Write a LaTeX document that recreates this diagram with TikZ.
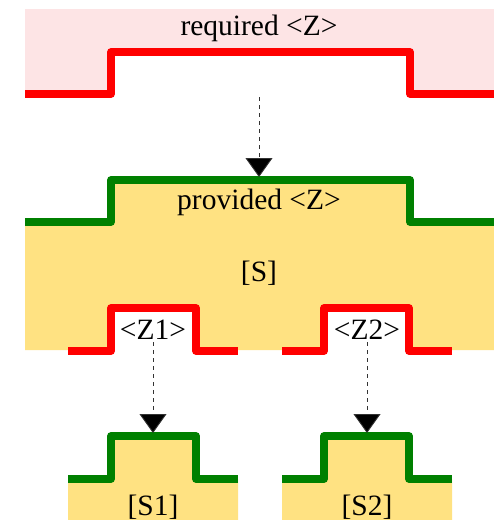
\documentclass[tikz,border=0pt]{standalone}
\usepackage{fontspec}
\setmainfont{Liberation Serif}
\usetikzlibrary{arrows.meta}
\definecolor{reqfill}{HTML}{FDE4E5}
\definecolor{provfill}{HTML}{FFE282}
\definecolor{reqline}{HTML}{FF0000}
\definecolor{provline}{HTML}{008000}
\tikzset{
  required/.style={draw=reqline, line width=7.5pt, line join=round, line cap=butt},
  provided/.style={draw=provline, line width=7.5pt, line join=round, line cap=butt},
  label/.style={font=\fontsize{29.5}{33}\selectfont, inner sep=0pt, anchor=center},
  binding/.style={dashed, dash pattern=on 4pt off 4pt, line width=0.9pt, draw=black!80,
    -{Triangle[width=27pt,length=19pt,fill=black]}},
}
\begin{document}
\begin{tikzpicture}[x=1pt,y=-1pt]
\useasboundingbox (0,0) rectangle (494,520);

% required interface <Z> on top
\fill[reqfill] (25,9) -- (494,9) -- (494,94) -- (410,94) -- (410,52) -- (111,52) -- (111,94) -- (25,94) -- cycle;
\draw[required] (25,94) -- (111,94) -- (111,52) -- (410,52) -- (410,94) -- (494,94);
\node[label] (req) at (259,28) {required <Z>};

% component S providing <Z>
\fill[provfill] (25,222) -- (111,222) -- (111,180) -- (410,180) -- (410,222) -- (494,222) -- (494,350) -- (25,350) -- cycle;
\fill[white] (111,308) rectangle (196,352);
\fill[white] (324,308) rectangle (409,352);
\draw[provided] (25,222) -- (111,222) -- (111,180) -- (410,180) -- (410,222) -- (494,222);
\draw[required] (68,351) -- (111,351) -- (111,308) -- (196,308) -- (196,351) -- (238,351);
\draw[required] (282,351) -- (324,351) -- (324,308) -- (409,308) -- (409,351) -- (452,351);
\node[label] (prov) at (259,202) {provided <Z>};
\node[label] (s) at (259,273) {[S]};
\node[label] (z1) at (153,330) {<Z1>};
\node[label] (z2) at (367,330) {<Z2>};

% subcomponents S1 and S2
\fill[provfill] (68,479) -- (111,479) -- (111,436) -- (196,436) -- (196,479) -- (238,479) -- (238,520) -- (68,520) -- cycle;
\fill[provfill] (282,479) -- (324,479) -- (324,436) -- (409,436) -- (409,479) -- (452,479) -- (452,520) -- (282,520) -- cycle;
\draw[provided] (68,479) -- (111,479) -- (111,436) -- (196,436) -- (196,479) -- (238,479);
\draw[provided] (282,479) -- (324,479) -- (324,436) -- (409,436) -- (409,479) -- (452,479);
\node[label] (s1) at (153,507) {[S1]};
\node[label] (s2) at (367,507) {[S2]};

% bindings
\coordinate (reqout) at (259,97);
\coordinate (provin) at (259,177);
\coordinate (z1out) at (153,342);
\coordinate (s1in) at (153,433);
\coordinate (z2out) at (367,342);
\coordinate (s2in) at (367,433);
\draw[binding] (reqout) -- (provin);
\draw[binding] (z1out) -- (s1in);
\draw[binding] (z2out) -- (s2in);
\end{tikzpicture}
\end{document}
